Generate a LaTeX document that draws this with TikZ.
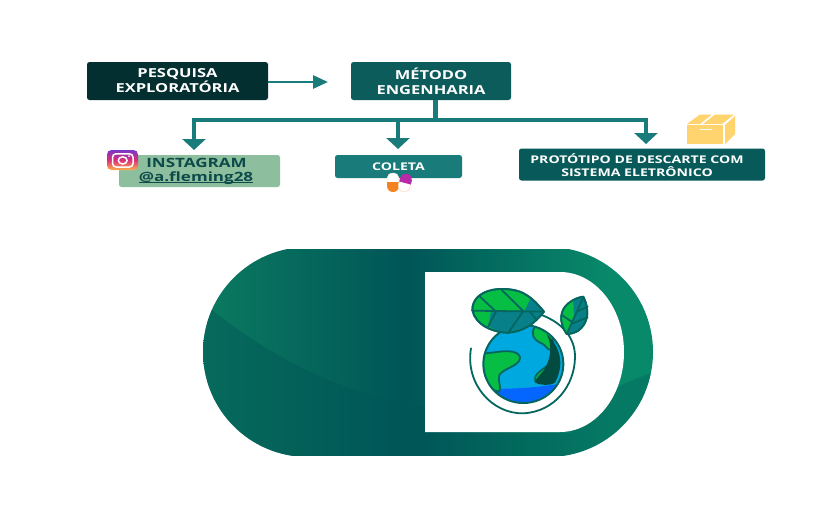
\documentclass[tikz,border=0pt]{standalone}
\usepackage{fontspec}
\usetikzlibrary{arrows.meta}
\setmainfont{Open Sans}[BoldFont={* Bold}]
\newfontfamily\wfont{Open Sans Bold}[FakeStretch=1.33]
\definecolor{boxA}{HTML}{042F30}
\definecolor{boxB}{HTML}{0B5C5A}
\definecolor{arrowC}{HTML}{1A7B7B}
\definecolor{mint}{HTML}{8DBF9E}
\definecolor{boxD}{HTML}{1A7B7B}
\definecolor{boxE}{HTML}{085A5A}
\definecolor{inkT}{HTML}{0D4A4A}
\definecolor{gL}{HTML}{0B7A60}
\definecolor{gM}{HTML}{005557}
\definecolor{gR}{HTML}{08896A}
\definecolor{boxY}{HTML}{FFD36E}
\definecolor{leafG}{HTML}{07BE45}
\definecolor{leafT}{HTML}{078089}
\definecolor{lineT}{HTML}{04665F}
\definecolor{globeB}{HTML}{00A8E0}
\definecolor{waterB}{HTML}{0466FF}
\definecolor{darkS}{HTML}{034A40}
\definecolor{orangeP}{HTML}{F58220}
\definecolor{purpleP}{HTML}{B82AA8}
\definecolor{igTop}{HTML}{7B35C8}
\definecolor{igMid}{HTML}{DB2F78}
\definecolor{igBot}{HTML}{FDB04B}
\pgfdeclarehorizontalshading{pillshade}{100bp}{color(0bp)=(gL); color(25bp)=(gL); color(47.7bp)=(gM); color(70bp)=(gR); color(100bp)=(gR)}
\newcommand{\ulhandle}[1]{\sbox0{#1}\rlap{\usebox0}\raisebox{-1.3pt}{\rule{\wd0}{.8pt}}}
\tikzset{
  flowbox/.style={rounded corners=2.5pt,minimum height=38pt,inner sep=0pt,text=white,align=center,font=\wfont\fontsize{12.4}{15}\selectfont},
  flowlink/.style={arrowC,line width=3.4pt},
  droparrow/.style={arrowC,line width=4.8pt,-{Triangle[width=23pt,length=11pt]}},
  leafedge/.style={lineT,line width=1.8pt,line join=round,line cap=round},
}
\begin{document}
\begin{tikzpicture}[x=1pt,y=-1pt]
\useasboundingbox (0,0) rectangle (816,528);
\fill[white] (0,0) rectangle (816,528);

% boxes
\node[flowbox,fill=boxA,minimum width=181pt] (pesq) at (177.5,81) {PESQUISA\\EXPLORATÓRIA};
\node[flowbox,fill=boxB,minimum width=160pt] (metodo) at (431,81) {MÉTODO\\ENGENHARIA};
\node[flowbox,fill=mint,minimum width=161pt,minimum height=32pt] (insta) at (199.5,171) {};
\node[text=inkT,inner sep=0pt,font=\wfont\fontsize{12.8}{13}\selectfont] (instaA) at (196.5,163) {INSTAGRAM};
\node[text=inkT,inner sep=0pt,font=\wfont\fontsize{12.8}{13}\selectfont] (instaB) at (196,178) {\ulhandle{@a.fleming28}};
\node[flowbox,fill=boxD,minimum width=127pt,minimum height=23pt,font=\wfont\fontsize{10.6}{11}\selectfont] (coleta) at (398.5,166.5) {COLETA};
\node[flowbox,fill=boxE,minimum width=246pt,minimum height=32pt] (proto) at (642,164.5) {};
\node[text=white,inner sep=0pt,align=center,font=\wfont\fontsize{10.6}{12.4}\selectfont] (protoT) at (637,165) {PROTÓTIPO DE DESCARTE COM\\SISTEMA ELETRÔNICO};

% connectors
\coordinate (tipA) at (328,82);
\draw[arrowC,line width=2.8pt,-{Triangle[width=13pt,length=15pt]}] (pesq.east |- tipA) -- (tipA);
\coordinate (busC) at (435,120);
\coordinate (busL) at (194,120);
\coordinate (busM) at (398,120);
\coordinate (busR) at (646,120);
\draw[flowlink,line width=5pt] (metodo.south -| busC) -- (busC);
\draw[flowlink] ([xshift=-2.4pt]busL) -- ([xshift=2.4pt]busR);
\coordinate (tipL) at (194,150);
\coordinate (tipM) at (398,149);
\coordinate (tipR) at (646,144);
\draw[droparrow] (busL) -- (tipL);
\draw[droparrow] (busM) -- (tipM);
\draw[droparrow] (busR) -- (tipR);

% instagram icon
\shade[rounded corners=4.5pt,top color=igTop,bottom color=igBot,middle color=igMid] (107,150) rectangle (138,170);
\draw[white,line width=1.5pt,rounded corners=3.5pt] (112.5,153.8) rectangle (133,167);
\draw[white,line width=1.5pt] (122.7,160.4) ellipse (4.4 and 3.6);
\fill[white] (129,156.2) circle (1);

% pills
\fill[white] (387,182) -- (387,178) arc (180:360:6 and 5) -- (399,182) -- cycle;
\draw[orangeP!20,line width=.3pt] (387,182) -- (387,178) arc (180:360:6 and 5) -- (399,182);
\fill[orangeP] (387,182) -- (399,182) -- (399,186) arc (0:180:6 and 6) -- cycle;
\begin{scope}[rotate around={-15:(405,183)}]
  \draw[orangeP!30,line width=.5pt,fill=white] (399,183) -- (399,186) arc (180:0:6 and 6) -- (411,183);
  \fill[purpleP] (399,183) -- (399,179) arc (180:360:6 and 5.5) -- (411,183) -- cycle;
\end{scope}

% parcel icon
\fill[boxY] (687,124) -- (700,114.5) -- (712,114.5) -- (700,124) -- cycle;
\fill[boxY] (703,124) -- (715,114.5) -- (734,114.5) -- (722,124) -- cycle;
\fill[boxY] (687,125) rectangle (723,144);
\fill[boxY] (725,125) -- (735,116) -- (735,134) -- (725,144) -- cycle;
\fill[white] (700,129) rectangle (711.5,130.3);

% big pill
\begin{scope}
  \clip (203,249) rectangle (653,455);
  \clip (308,247) arc (270:90:105) -- (548,457) arc (90:-90:105) -- cycle;
  \shade[shading=pillshade] (203,240) rectangle (653,465);
  \fill[gM,opacity=.42] (203,300) -- (212,310) .. controls (275,360) and (345,395) .. (425,407) -- (425,465) -- (203,465) -- cycle;
  \fill[gM,opacity=.3] (425,433) -- (570,433) -- (618,387) .. controls (630,381) and (642,376) .. (655,372) -- (655,465) -- (425,465) -- cycle;
\end{scope}
\fill[white] (425,272) -- (560,272) arc (-90:0:64 and 80) arc (0:90:64 and 80) -- (425,432) -- cycle;

% emblem, in 3x crop units
\begin{scope}[shift={(420,260)},x=.33333pt,y=-.33333pt]
  % ring
  \draw[lineT,line width=1.8pt,line cap=round] (153,265) .. controls (135,370) and (215,462) .. (310,460) .. controls (405,455) and (465,375) .. (465,290) .. controls (465,235) and (430,190) .. (365,165);
  % globe
  \begin{scope}
    \clip (310,312) ellipse (120 and 117);
    \fill[globeB] (180,180) rectangle (440,440);
    \fill[waterB] (180,382) .. controls (260,390) and (340,385) .. (440,368) -- (440,440) -- (180,440) -- cycle;
    \draw[leafedge,fill=leafG] (180,282) -- (230,276) .. controls (270,270) and (300,275) .. (300,295) .. controls (298,318) and (250,325) .. (238,345) .. controls (232,365) and (245,375) .. (238,395) -- (180,380) -- cycle;
    \draw[leafedge,fill=leafG] (345,200) .. controls (330,220) and (340,240) .. (365,250) .. controls (385,262) and (385,280) .. (400,260) -- (395,210) -- cycle;
    \draw[leafedge,fill=leafG] (345,362) .. controls (340,345) and (365,330) .. (385,315) -- (400,350) -- cycle;
    \fill[darkS] (380,222) .. controls (400,260) and (390,300) .. (372,330) .. controls (355,350) and (345,360) .. (345,368) .. controls (370,378) and (395,375) .. (405,368) .. controls (425,330) and (435,275) .. (380,222) -- cycle;
  \end{scope}
  \draw[lineT,line width=2pt] (310,312) ellipse (120 and 117);
  % large leaf
  \draw[leafedge,fill=leafG] (372,155) .. controls (350,130) and (335,110) .. (300,95) .. controls (240,75) and (157,90) .. (157,150) .. controls (165,195) and (220,218) .. (265,218) .. controls (310,215) and (345,190) .. (372,155) -- cycle;
  \fill[leafT] (333,112) -- (372,155) .. controls (345,190) and (310,215) .. (265,218) .. controls (240,216) and (225,210) .. (205,198) -- (213,155) -- (315,150) -- cycle;
  \draw[leafedge] (372,155) .. controls (350,130) and (335,110) .. (300,95) .. controls (240,75) and (157,90) .. (157,150) .. controls (165,195) and (220,218) .. (265,218) .. controls (310,215) and (345,190) .. (372,155) -- cycle;
  \draw[leafedge] (157,152) -- (372,155);
  \draw[leafedge] (180,110) -- (228,155) -- (205,198);
  \draw[leafedge] (245,90) -- (310,153) -- (265,218);
  \draw[leafedge] (330,155) -- (350,180);
  % small leaf
  \draw[leafedge,fill=leafT] (440,222) .. controls (415,185) and (420,150) .. (445,130) .. controls (460,118) and (475,112) .. (490,110) .. controls (510,150) and (505,190) .. (475,212) .. controls (465,218) and (452,222) .. (440,222) -- cycle;
  \fill[leafG] (440,222) .. controls (415,185) and (420,150) .. (445,130) .. controls (450,128) and (455,124) .. (460,122) -- (462,180) -- cycle;
  \draw[leafedge] (440,222) .. controls (415,185) and (420,150) .. (445,130) .. controls (460,118) and (475,112) .. (490,110) .. controls (510,150) and (505,190) .. (475,212) .. controls (465,218) and (452,222) .. (440,222) -- cycle;
  \draw[leafedge] (440,222) -- (490,112);
  \draw[leafedge] (425,165) -- (455,185);
  \draw[leafedge] (470,155) -- (503,140);
  \draw[leafedge] (458,190) -- (503,172);
\end{scope}
\end{tikzpicture}
\end{document}
